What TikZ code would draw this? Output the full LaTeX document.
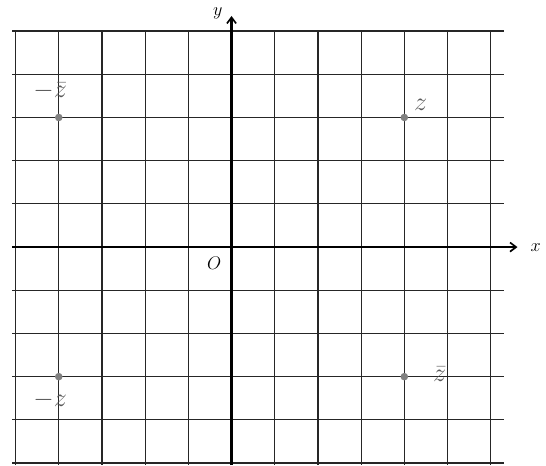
\documentclass[tikz,border=0pt]{standalone}
\usetikzlibrary{arrows.meta}
\begin{document}
\begin{tikzpicture}[x=1cm,y=1cm,
  gridline/.style={line width=0.8pt, draw=black!85},
  axisline/.style={line width=1.5pt, draw=black, -{Straight Barb[length=4pt,width=6pt,line width=1.1pt]}},
  ptdot/.style={circle, fill=black!50, inner sep=0pt, minimum size=5pt},
  hand/.style={text=black!65, font=\LARGE},
  axlabel/.style={font=\large}]
\useasboundingbox (-5.36,-5.05) rectangle (7.28,5.72);
% grid
\foreach \i in {-5,...,6} {\draw[gridline] (\i,5) -- (\i,-5.05);}
\foreach \j in {-5,...,5} {\draw[gridline] (-5.08,\j) -- (6.3,\j);}
% axes
\coordinate (xs) at (-5.08,0);
\coordinate (xe) at (6.62,0);
\coordinate (ys) at (0,-5.05);
\coordinate (ye) at (0,5.35);
\draw[axisline] (xs) -- (xe);
\draw[axisline] (ys) -- (ye);
\node[axlabel, anchor=west] (xl) at (6.8,0) {$x$};
\node[axlabel] (yl) at (-0.32,5.4) {$y$};
\node[axlabel] (o) at (-0.4,-0.38) {$O$};
% points
\node[ptdot] (mzb) at (-4,3) {};
\node[ptdot] (z) at (4,3) {};
\node[ptdot] (mz) at (-4,-3) {};
\node[ptdot] (zb) at (4,-3) {};
\node[hand] (lmzb) at (-4.2,3.62) {$-\bar{z}$};
\node[hand] (lz) at (4.38,3.3) {$z$};
\node[hand] (lmz) at (-4.2,-3.55) {$-z$};
\node[hand] (lzb) at (4.82,-2.95) {$\bar{z}$};
\end{tikzpicture}
\end{document}
